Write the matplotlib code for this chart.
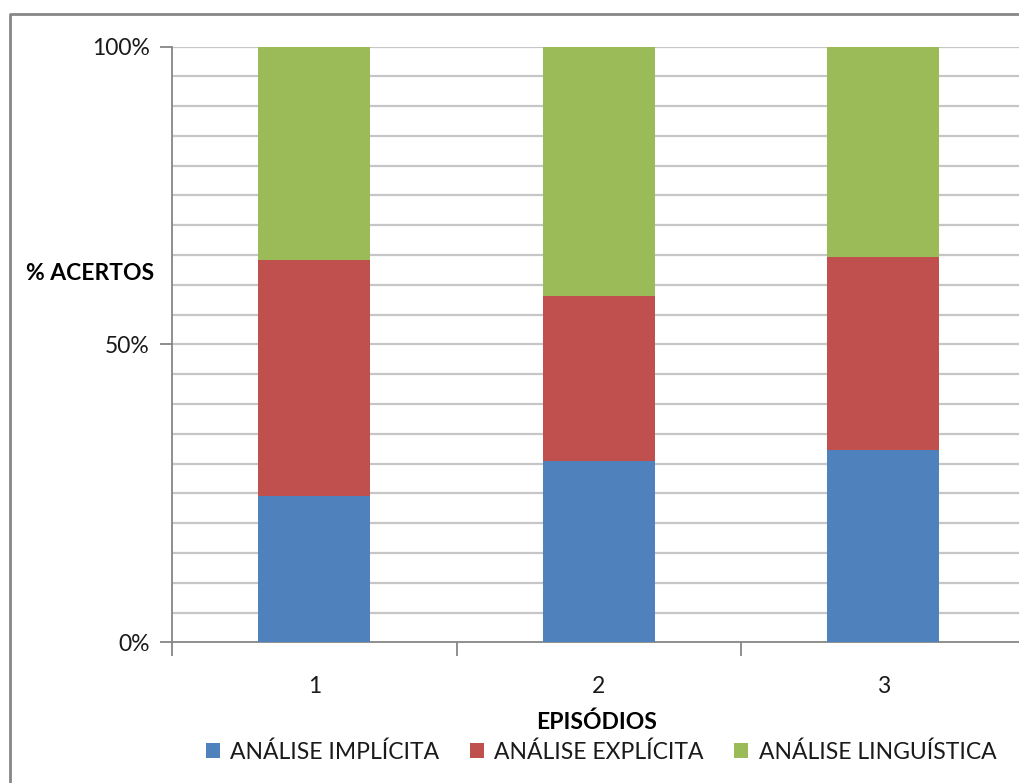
import matplotlib
matplotlib.use("Agg")
import matplotlib.pyplot as plt
from matplotlib.lines import Line2D
from matplotlib.patches import Patch
import numpy as np

episodes = ["1", "2", "3"]
implicita = [24.5, 30.5, 32.2]
explicita = [39.6, 27.6, 32.4]
linguistica = [35.9, 41.9, 35.4]
series_names = ["ANÁLISE IMPLÍCITA", "ANÁLISE EXPLÍCITA", "ANÁLISE LINGUÍSTICA"]
series_colors = ["#4F81BD", "#C0504D", "#9BBB59"]

plt.rcParams["font.family"] = ["Lato", "DejaVu Sans"]
FS = 16.5

W, H = 1019, 783
fig = plt.figure(figsize=(W / 100, H / 100), dpi=100)

# plot area in pixel coordinates
left_px, right_px, top_px, bottom_px = 172, 1025.5, 46.5, 642.3
ax = fig.add_axes([left_px / W, 1 - bottom_px / H,
                   (right_px - left_px) / W, (bottom_px - top_px) / H])

x = np.arange(len(episodes))
bottoms = np.zeros(len(episodes))
for vals, name, col in zip([implicita, explicita, linguistica], series_names, series_colors):
    ax.bar(x, vals, width=0.395, bottom=bottoms, color=col, label=name, zorder=3)
    bottoms += np.array(vals)

ax.set_xlim(-0.5, len(episodes) - 0.5)
ax.set_ylim(0, 100)

# light horizontal grid every 5 %
for g in np.arange(5, 101, 5):
    ax.axhline(g, color="#c6c6c6", lw=1.6, zorder=1)

for s in ["top", "right"]:
    ax.spines[s].set_visible(False)
for s in ["left", "bottom"]:
    ax.spines[s].set_color("#868686")
    ax.spines[s].set_linewidth(1.3)

ax.set_yticks([0, 50, 100])
ax.set_yticklabels(["0%", "50%", "100%"], fontsize=FS, color="#1a1a1a")
ax.tick_params(axis="y", length=9, width=1.3, color="#868686", pad=7)

# category boundary ticks on the x axis, labels at bar centres
ax.set_xticks([-0.5, 0.5, 1.5, 2.5])
ax.set_xticklabels([])
ax.tick_params(axis="x", length=10, width=1.3, color="#868686")
for xi, lab in zip(x, episodes):
    ax.text(xi, -7.5, lab, ha="center", va="center", fontsize=FS, color="#1a1a1a")

fig.text(90 / W, 1 - 273 / H, "% ACERTOS", ha="center", va="center",
         fontsize=FS, fontweight="bold", color="#000000")
fig.text(597 / W, 1 - 722 / H, "EPISÓDIOS", ha="center", va="center",
         fontsize=FS, fontweight="bold", color="#000000")

handles = [Patch(facecolor=c, edgecolor="none") for c in series_colors]
fig.legend(handles, series_names, loc="center", bbox_to_anchor=(601 / W, 1 - 752 / H),
           ncol=3, frameon=False, fontsize=FS, handlelength=0.6, handleheight=0.6,
           handletextpad=0.45, columnspacing=1.35, labelcolor="#1a1a1a")

# outer chart frame (left and top edges)
fig.add_artist(Line2D([10 / W, 10 / W, 1.0], [0.0, 1 - 14 / H, 1 - 14 / H],
                      transform=fig.transFigure, color="#878787", lw=2))

fig.savefig("out.png", dpi=100, facecolor="white")
